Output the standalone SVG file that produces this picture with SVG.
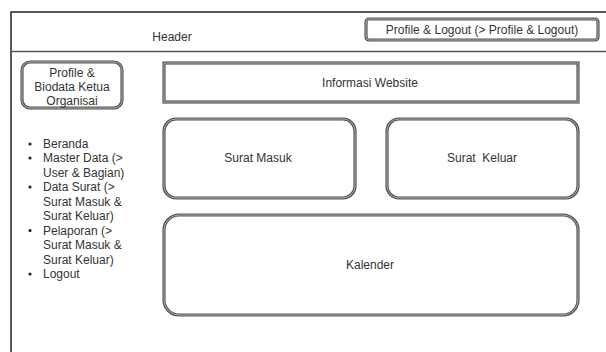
<svg xmlns="http://www.w3.org/2000/svg" width="606" height="352" viewBox="0 0 606 352">
<style>
text{font-family:"Liberation Sans",Arial,sans-serif;font-size:12px;fill:#333}
.c{text-anchor:middle}
.frame{fill:none;stroke:#222;stroke-width:1.5}
.dbl{fill:#fff;stroke:#555;stroke-width:3.2}
.dbl2{fill:none;stroke:#aaa;stroke-width:1}
</style>
<rect width="606" height="352" fill="#fff"/>
<g id="frame">
<path class="frame" d="M11,360 L11,12 L620,12"/>
<line x1="11" y1="51.5" x2="606" y2="51.5" stroke="#555" stroke-width="1.5"/>
</g>
<g id="header"><text class="c" x="172" y="41">Header</text></g>
<g id="profile-logout">
<rect class="dbl" x="366" y="19" width="232" height="21" rx="3"/>
<rect class="dbl2" x="366" y="19" width="232" height="21" rx="3"/>
<text class="c" x="482" y="34">Profile &amp; Logout (&gt; Profile &amp; Logout)</text>
</g>
<g id="profile-biodata">
<rect class="dbl" x="22" y="62" width="100" height="46" rx="8"/>
<rect class="dbl2" x="22" y="62" width="100" height="46" rx="8"/>
<text class="c" x="72" y="77">Profile &amp;</text>
<text class="c" x="72" y="91">Biodata Ketua</text>
<text class="c" x="72" y="105">Organisai</text>
</g>
<g id="menu">
<g fill="#222">
<circle cx="30" cy="144" r="1.6"/>
<circle cx="30" cy="158" r="1.6"/>
<circle cx="30" cy="187" r="1.6"/>
<circle cx="30" cy="230.5" r="1.6"/>
<circle cx="30" cy="274" r="1.6"/>
</g>
<text x="43" y="148">Beranda</text>
<text x="43" y="162">Master Data (&gt;</text>
<text x="43" y="176.5">User &amp; Bagian)</text>
<text x="43" y="191">Data Surat (&gt;</text>
<text x="43" y="205.5">Surat Masuk &amp;</text>
<text x="43" y="220">Surat Keluar)</text>
<text x="43" y="234.5">Pelaporan (&gt;</text>
<text x="43" y="249">Surat Masuk &amp;</text>
<text x="43" y="263.5">Surat Keluar)</text>
<text x="43" y="278">Logout</text>
</g>
<g id="informasi-website">
<rect class="dbl" x="164" y="63" width="414" height="39"/>
<rect class="dbl2" x="164" y="63" width="414" height="39"/>
<text class="c" x="370" y="87">Informasi Website</text>
</g>
<g id="surat-masuk">
<rect class="dbl" x="164" y="119" width="191" height="79" rx="12"/>
<rect class="dbl2" x="164" y="119" width="191" height="79" rx="12"/>
<text class="c" x="258" y="162">Surat Masuk</text>
</g>
<g id="surat-keluar">
<rect class="dbl" x="387" y="119" width="191" height="79" rx="12"/>
<rect class="dbl2" x="387" y="119" width="191" height="79" rx="12"/>
<text class="c" x="482" y="162" xml:space="preserve">Surat  Keluar</text>
</g>
<g id="kalender">
<rect class="dbl" x="164" y="215" width="414" height="100" rx="15"/>
<rect class="dbl2" x="164" y="215" width="414" height="100" rx="15"/>
<text class="c" x="370" y="269">Kalender</text>
</g>
<g id="connectors"></g>
</svg>
